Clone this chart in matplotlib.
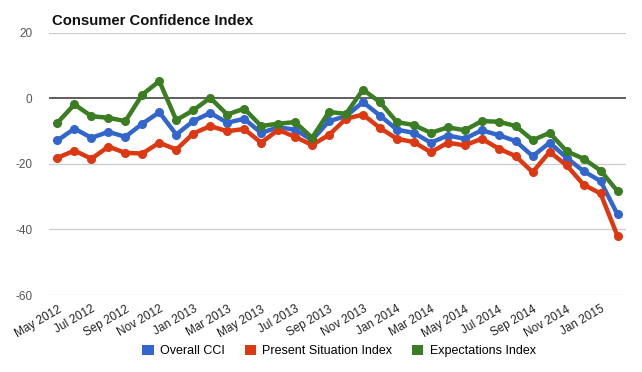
import matplotlib
matplotlib.use("Agg")
import matplotlib.pyplot as plt
from matplotlib.patches import Patch

months = ["May 2012", "Jun 2012", "Jul 2012", "Aug 2012", "Sep 2012", "Oct 2012", "Nov 2012", "Dec 2012",
          "Jan 2013", "Feb 2013", "Mar 2013", "Apr 2013", "May 2013", "Jun 2013", "Jul 2013", "Aug 2013",
          "Sep 2013", "Oct 2013", "Nov 2013", "Dec 2013", "Jan 2014", "Feb 2014", "Mar 2014", "Apr 2014",
          "May 2014", "Jun 2014", "Jul 2014", "Aug 2014", "Sep 2014", "Oct 2014", "Nov 2014", "Dec 2014",
          "Jan 2015", "Feb 2015"]

overall_cci = [-12.8, -9.2, -12.0, -10.2, -11.7, -7.7, -4.2, -11.0, -6.9, -4.4, -7.4, -6.2,
               -10.5, -8.8, -9.5, -12.7, -6.9, -5.4, -1.1, -5.2, -9.5, -10.5, -13.5, -11.3,
               -12.3, -9.7, -11.2, -13.0, -17.6, -13.5, -18.1, -22.2, -25.2, -35.4]
present_situation = [-18.1, -15.9, -18.4, -14.7, -16.6, -16.8, -13.5, -15.6, -10.7, -8.4, -10.0, -9.3,
                     -13.5, -9.6, -11.7, -14.2, -11.1, -6.2, -4.9, -9.0, -12.3, -13.3, -16.4, -13.5,
                     -14.3, -12.3, -15.3, -17.6, -22.5, -16.3, -20.4, -26.3, -29.0, -42.0]
expectations = [-7.4, -1.8, -5.4, -5.9, -6.9, 1.2, 5.3, -6.6, -3.6, 0.2, -4.9, -3.1,
                -8.4, -7.7, -7.2, -12.0, -4.1, -4.7, 2.7, -1.1, -7.2, -8.1, -10.5, -8.8,
                -9.7, -6.9, -7.1, -8.4, -12.7, -10.5, -16.1, -18.4, -22.0, -28.3]

series_names = ["Overall CCI", "Present Situation Index", "Expectations Index"]
colors = ["#3366cc", "#dc3912", "#3a7d22"]
y_ticks = [20, 0, -20, -40, -60]

plt.rcParams['font.family'] = ['Liberation Sans', 'DejaVu Sans']

fig = plt.figure(figsize=(6.42, 3.72), dpi=100)
ax = fig.add_axes([49 / 642, (372 - 295) / 372, (626 - 49) / 642, 262 / 372])

x = list(range(len(months)))
for vals, c in zip([overall_cci, present_situation, expectations], colors):
    ax.plot(x, vals, color=c, lw=3.2, marker='o', markersize=5.5, solid_joinstyle='round', zorder=3)

ax.set_ylim(-60, 20)
ax.set_xlim(-0.5, 33.5)
ax.set_yticks(y_ticks)
ax.set_yticklabels([str(v) for v in y_ticks], fontsize=8.5, color='#555555')
for v in y_ticks:
    ax.axhline(v, color='#333333' if v == 0 else '#cccccc', lw=1.1 if v == 0 else 0.9, zorder=1)

ax.set_xticks(x[::2])
ax.set_xticklabels(months[::2], rotation=30, ha='right', rotation_mode='anchor',
                   fontsize=8.5, color='#222222')
ax.tick_params(axis='both', length=0)
ax.tick_params(axis='x', pad=6)
ax.tick_params(axis='y', pad=12)
for s in ax.spines.values():
    s.set_visible(False)

fig.text(52 / 642, 1 - 25 / 372, "Consumer Confidence Index", fontsize=10.7, fontweight='bold',
         color='#111111', va='baseline')

handles = [Patch(facecolor=c, edgecolor='none') for c in colors]
fig.legend(handles, series_names, loc='center', bbox_to_anchor=(339 / 642, 1 - 351 / 372), ncol=3,
           frameon=False, fontsize=9, handlelength=0.9, handleheight=0.9, handletextpad=0.5,
           columnspacing=1.6, borderpad=0, borderaxespad=0)

fig.savefig("out.png", dpi=100, facecolor='white')
